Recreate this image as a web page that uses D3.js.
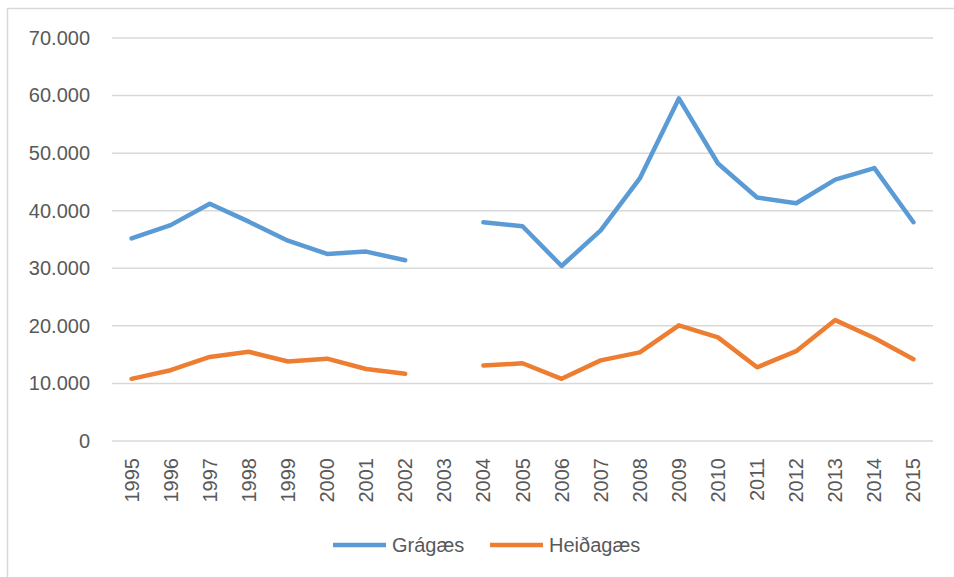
<!DOCTYPE html>
<html>
<head>
<meta charset="utf-8">
<script src="https://cdn.jsdelivr.net/npm/d3@7"></script>
<style>
  body { margin: 0; background: #fff; }
  text { font-family: "Liberation Sans", Arial, sans-serif; fill: #595959; }
</style>
</head>
<body>
<script>
// data (2003 has no count)
var years = ["1995","1996","1997","1998","1999","2000","2001","2002","2003","2004","2005",
             "2006","2007","2008","2009","2010","2011","2012","2013","2014","2015"];
var gragaes = [35200, 37500, 41200, 38100, 34800, 32500, 32900, 31400, null, 38000, 37300,
               30400, 36600, 45600, 59500, 48200, 42300, 41300, 45400, 47400, 38000];
var heidagaes = [10800, 12300, 14600, 15500, 13800, 14300, 12500, 11700, null, 13100, 13500,
                 10800, 14000, 15400, 20100, 18000, 12800, 15600, 21000, 17900, 14200];
var yTicks = [0, 10000, 20000, 30000, 40000, 50000, 60000, 70000];
var seriesNames = ["Grágæs", "Heiðagæs"];
var colors = ["#5B9BD5", "#ED7D31"];

var svgWidth = 954, svgHeight = 577;
var margin = { top: 38, right: 21, bottom: 136, left: 112 };
var width = svgWidth - margin.left - margin.right;
var height = svgHeight - margin.top - margin.bottom;

var svg = d3.select("body").append("svg")
  .attr("width", svgWidth)
  .attr("height", svgHeight);

// chart frame (right and bottom edges fall outside the picture)
svg.append("rect")
  .attr("x", 7.5).attr("y", 8.5)
  .attr("width", 960).attr("height", 580)
  .attr("fill", "none")
  .attr("stroke", "#d9d9d9")
  .attr("stroke-width", 1.5);

var chartGroup = svg.append("g")
  .attr("transform", `translate(${margin.left}, ${margin.top})`);

var x = d3.scaleBand().domain(years).range([0, width]);
var y = d3.scaleLinear().domain([0, 70000]).range([height, 0]);

// gridlines
chartGroup.append("g")
  .selectAll("line")
  .data(yTicks)
  .enter()
  .append("line")
  .attr("x1", 0).attr("x2", width)
  .attr("y1", d => y(d)).attr("y2", d => y(d))
  .attr("stroke", "#d9d9d9")
  .attr("stroke-width", 1.5);

// y axis labels
var fmt = d3.formatLocale({ decimal: ",", thousands: ".", grouping: [3], currency: ["", ""] }).format(",");
var leftAxis = d3.axisLeft(y).tickValues(yTicks).tickFormat(fmt).tickSize(0).tickPadding(22);
var yAxis = chartGroup.append("g").call(leftAxis);
yAxis.select(".domain").remove();
yAxis.selectAll("text").attr("font-size", 20).attr("fill", "#595959").attr("font-family", null);

// x axis labels, rotated
var bottomAxis = d3.axisBottom(x).tickSize(0);
var xAxis = chartGroup.append("g")
  .attr("transform", `translate(0, ${height})`)
  .call(bottomAxis);
xAxis.select(".domain").remove();
xAxis.selectAll("text")
  .attr("font-size", 20)
  .attr("fill", "#595959")
  .attr("font-family", null)
  .attr("transform", "rotate(-90)")
  .attr("text-anchor", "end")
  .attr("x", -17)
  .attr("y", 0)
  .attr("dy", "0.35em");

// lines
var line = d3.line()
  .defined(d => d != null)
  .x((d, i) => x(years[i]) + x.bandwidth() / 2)
  .y(d => y(d));

[gragaes, heidagaes].forEach(function(series, k) {
  chartGroup.append("path")
    .datum(series)
    .attr("d", line)
    .attr("fill", "none")
    .attr("stroke", colors[k])
    .attr("stroke-width", 4.5)
    .attr("stroke-linejoin", "round")
    .attr("stroke-linecap", "round");
});

// legend
var legendX = [333, 490];
var legend = svg.append("g")
  .selectAll("g")
  .data(seriesNames)
  .enter()
  .append("g")
  .attr("transform", (d, i) => `translate(${legendX[i]}, 545)`);

legend.append("line")
  .attr("x1", 0).attr("x2", 53)
  .attr("y1", 0).attr("y2", 0)
  .attr("stroke", (d, i) => colors[i])
  .attr("stroke-width", 4.5);

legend.append("text")
  .attr("x", 59)
  .attr("y", 0)
  .attr("dy", "0.35em")
  .attr("font-size", 20)
  .text(d => d);
</script>
</body>
</html>
